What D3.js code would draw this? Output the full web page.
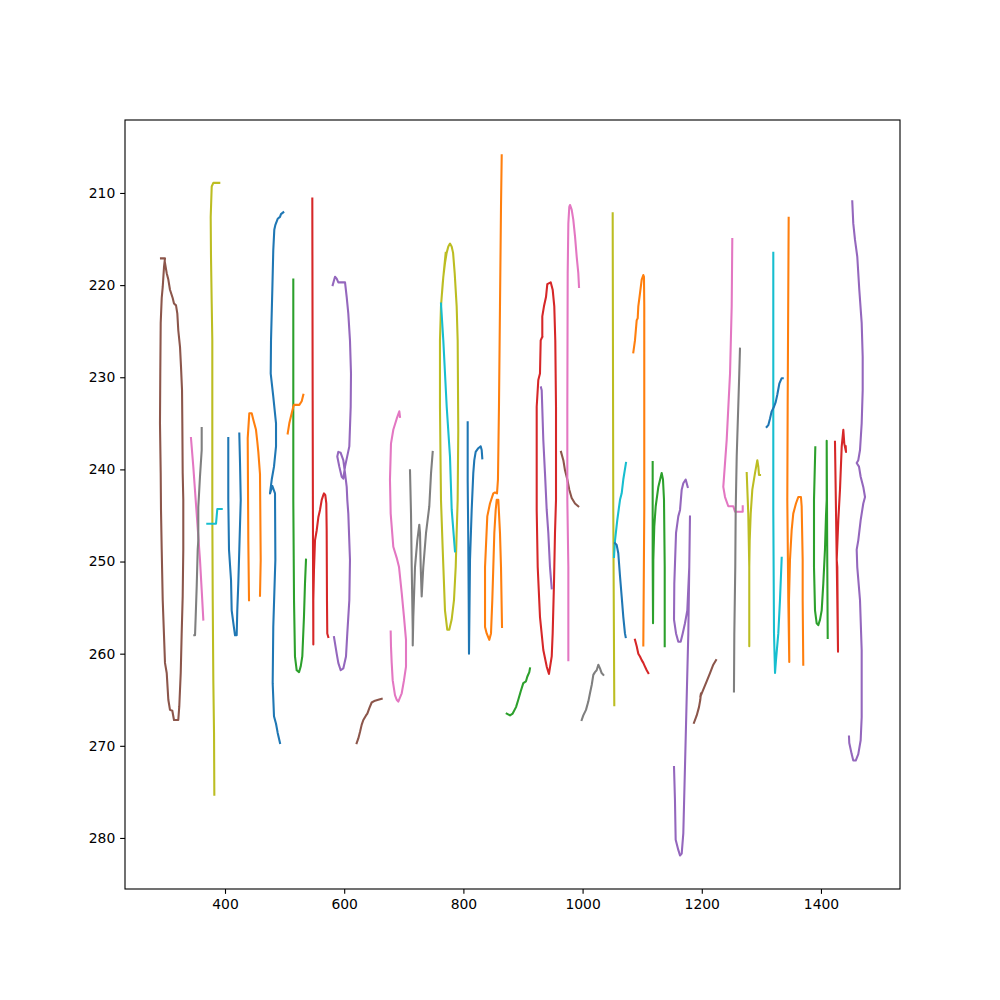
<!DOCTYPE html>
<html><head><meta charset="utf-8">
<script src="https://cdn.jsdelivr.net/npm/d3@7"></script>
<style>body{margin:0;background:#fff} svg text{font-family:"DejaVu Sans",sans-serif}</style>
</head><body><svg id="chart" width="1000" height="1000"></svg>
<script>
// axis limits and ticks
const xLimits = [232.2, 1532.6];
const yLimits = [202.08, 285.54];
const xTicks = [400, 600, 800, 1000, 1200, 1400];
const yTicks = [210, 220, 230, 240, 250, 260, 270, 280];

// tracks, [x, y] pairs, in plotting order
const track00 = [[405.5,236.6],[405.5,243.3],[406.7,248.7],[410.1,252.0],[411.2,255.3],[415.1,257.2],[416.8,258.0],[419.6,258.0],[420.6,255.3],[422.3,252.4],[424.0,248.7],[426.4,243.3],[425.2,239.3],[424.0,236.1]];
const track01 = [[440.3,254.2],[439.1,247.7],[438.1,236.6],[440.8,233.9],[444.8,233.9],[447.5,234.6],[452.0,235.7],[454.2,237.0],[455.9,238.1],[458.7,240.5],[459.9,249.8],[458.7,253.7]];
const track02 = [[514.6,219.4],[514.6,243.3],[515.8,254.2],[517.4,260.3],[520.3,261.8],[524.2,262.0],[527.0,261.4],[529.7,260.3],[532.5,256.0],[534.2,252.4],[535.9,249.8]];
const track03 = [[546.5,210.6],[547.1,232.5],[547.7,249.8],[548.2,259.0],[548.2,254.2],[549.3,250.9],[551.0,247.7],[553.9,246.6],[556.6,245.2],[559.4,244.4],[562.3,243.3],[564.9,242.8],[566.1,242.6],[568.3,242.8],[570.0,243.7],[570.6,246.6],[571.1,254.2],[571.6,257.8],[573.3,258.2]];
const track04 = [[580.7,220.0],[584.6,219.1],[587.4,219.3],[590.1,219.7],[601.4,219.7],[604.2,221.3],[606.9,223.1],[609.7,226.0],[611.4,229.6],[610.9,233.2],[608.6,237.5],[601.4,239.7],[598.5,241.0],[595.8,240.8],[591.8,239.7],[588.4,238.6],[590.1,238.1],[594.1,238.2],[598.5,239.0],[601.4,240.4],[604.2,241.9],[605.2,243.3],[606.9,244.8],[609.7,249.8],[608.6,254.2],[605.2,257.8],[603.0,260.3],[598.5,261.6],[594.1,261.8],[590.1,261.0],[587.4,260.0],[582.9,258.2]];
const track05 = [[292.6,217.1],[299.3,217.1],[297.7,218.0],[295.5,220.2],[293.8,221.4],[292.1,224.1],[291.4,229.6],[290.9,235.0],[292.1,240.4],[292.6,244.4],[293.8,248.7],[295.5,254.2],[299.3,261.0],[302.2,262.1],[304.9,265.0],[307.7,266.1],[311.6,266.2],[314.4,267.2],[321.6,267.2],[323.3,265.7],[325.7,262.1],[327.3,257.8],[329.0,253.8],[330.0,248.7],[330.0,243.3],[329.0,240.4],[328.4,235.0],[327.9,231.4],[326.2,228.9],[324.5,226.7],[321.6,224.9],[320.0,223.1],[317.8,222.2],[314.4,222.0],[312.2,221.4],[307.7,220.5],[304.9,219.4],[302.2,218.7],[299.3,217.6]];
const track06 = [[342.9,236.6],[346.8,239.7],[350.8,243.3],[358.0,249.8],[360.9,253.1],[363.6,256.3]];
const track07 = [[360.9,235.5],[360.9,237.9],[358.0,240.8],[355.2,244.1],[355.2,247.7],[354.2,248.7],[352.5,252.7],[350.8,256.0],[349.7,258.0],[348.5,258.0]];
const track08 = [[390.4,208.9],[380.4,208.9],[377.7,209.3],[376.0,212.6],[376.5,216.9],[377.7,222.0],[378.7,226.0],[378.7,244.4],[379.4,254.2],[380.4,262.9],[381.6,268.6],[382.1,275.3]];
const track09 = [[370.3,245.9],[384.9,245.9],[387.1,244.3],[394.5,244.3]];

const track10 = [[497.8,212.1],[493.9,212.3],[492.3,212.6],[488.4,212.8],[484.4,213.5],[482.7,214.0],[481.0,216.2],[479.4,220.5],[477.2,226.0],[476.7,229.6],[481.0,232.1],[485.6,235.0],[485.6,237.5],[482.2,239.7],[478.4,241.1],[475.5,242.6],[479.4,241.8],[483.9,242.6],[484.5,249.8],[481.0,257.1],[480.0,263.2],[482.2,266.8],[485.6,267.6],[488.4,268.6],[492.3,269.7]];
const track11 = [[505.2,236.1],[507.9,235.0],[511.9,233.9],[514.6,233.2],[515.8,233.0],[524.7,233.0],[528.7,232.6],[531.4,231.9]];
const track12 = [[872.7,266.5],[878.2,266.7],[882.7,266.5],[888.3,265.8],[892.1,265.0],[896.1,264.1],[900.5,263.2],[905.0,263.0],[907.2,262.5],[910.6,262.0],[911.7,261.6]];
const track13 = [[932.4,225.6],[929.7,226.0],[928.5,229.6],[925.7,230.3],[923.0,233.2],[923.0,244.4],[924.7,250.6],[928.5,256.0],[934.1,259.6],[939.8,261.4],[943.6,262.2],[948.2,260.3],[949.8,257.8],[952.0,252.4],[953.7,246.9],[955.4,243.3],[955.4,233.2],[954.2,226.0],[952.5,222.3],[949.8,220.5],[946.5,219.7],[940.8,219.9],[938.6,221.3],[935.2,222.3],[932.4,223.4],[932.4,225.6]];
const track14 = [[930.2,231.1],[931.4,231.4],[934.1,236.8],[936.9,240.4],[939.8,244.4],[942.5,246.9],[945.3,250.6],[948.2,252.9]];
const track15 = [[620.9,269.7],[623.7,269.2],[626.5,268.5],[629.4,267.7],[632.1,267.2],[636.6,266.7],[638.8,266.5],[642.2,265.9],[646.1,265.3],[651.7,265.1],[657.2,265.0],[662.9,264.9]];
const track16 = [[693.6,234.3],[692.5,233.7],[688.1,234.5],[682.4,235.7],[678.5,237.2],[676.8,241.1],[678.0,244.8],[682.4,248.4],[688.1,249.6],[692.0,250.6],[696.5,253.4],[700.3,256.0],[703.7,258.5],[703.7,261.4],[700.3,262.9],[696.5,264.3],[690.8,265.2],[688.1,265.0],[685.2,264.5],[681.4,262.9],[679.7,261.0],[678.5,259.2],[678.0,257.6]];
const track17 = [[710.4,240.1],[712.1,244.8],[713.3,250.6],[715.0,257.4],[715.0,259.1],[716.0,256.0],[718.8,250.6],[722.7,247.7],[726.0,246.0],[727.2,246.9],[728.4,250.6],[730.0,253.8],[732.7,250.6],[737.3,246.9],[742.8,244.0],[745.7,240.4],[748.5,238.1]];
const track18 = [[770.3,216.5],[768.0,218.0],[765.3,219.8],[762.4,222.3],[760.7,226.0],[760.7,233.2],[761.9,240.4],[762.4,243.3],[765.3,248.7],[769.1,255.3],[772.9,257.4],[776.3,257.4],[780.3,256.3],[784.2,254.2],[787.1,250.6],[788.7,246.9],[790.4,243.3],[791.4,235.8],[790.4,226.0],[788.7,222.3],[785.4,218.7],[782.7,216.5],[780.3,215.8],[777.5,215.5],[774.7,215.8],[771.9,216.5],[769.1,217.6],[766.3,219.1],[764.1,220.9]];
const track19 = [[762.4,222.0],[766.3,226.0],[772.0,233.2],[777.5,238.6],[780.4,244.4],[783.1,246.6],[785.9,248.9]];

const track20 = [[831.7,238.8],[830.7,237.9],[829.0,237.5],[825.0,237.7],[820.6,238.1],[818.3,239.0],[816.6,240.4],[813.9,244.4],[811.1,249.8],[809.4,260.0],[808.9,254.2],[808.2,247.7],[807.2,241.2],[807.2,234.9]];
const track21 = [[864.3,205.9],[863.1,211.5],[861.4,222.3],[859.7,233.2],[858.0,241.1],[856.4,242.6],[853.0,242.5],[850.2,242.6],[844.6,243.7],[840.1,245.1],[836.3,250.6],[836.3,257.1],[839.1,257.8],[843.5,258.5],[846.3,257.8],[848.5,254.2],[850.2,250.6],[851.9,246.9],[854.2,244.4],[855.9,243.3],[858.6,243.3],[861.4,246.9],[863.1,250.6],[864.8,257.1]];
const track22 = [[1117.6,239.2],[1117.6,249.8],[1118.2,256.7],[1118.7,249.8],[1120.3,246.2],[1122.7,244.0],[1127.1,241.9],[1132.7,240.4],[1134.9,241.1],[1136.6,243.3],[1137.8,250.6],[1137.8,259.2]];
const track23 = [[1087.9,258.5],[1090.8,259.2],[1093.5,260.0],[1096.3,260.3],[1099.2,260.7],[1101.9,261.0],[1104.7,261.4],[1107.6,261.8],[1110.3,262.1]];
const track24 = [[1176.4,241.9],[1173.0,241.1],[1169.0,241.5],[1166.3,242.2],[1163.5,244.4],[1160.6,245.1],[1156.8,246.9],[1153.9,252.4],[1153.4,256.3],[1156.8,257.8],[1160.6,258.7],[1164.6,258.7],[1168.0,257.8],[1171.8,256.7],[1175.7,255.3],[1179.0,250.6],[1180.2,245.1],[1179.0,250.6],[1177.4,257.8],[1174.6,265.0],[1171.8,272.3],[1169.0,279.5],[1166.3,281.7],[1163.5,281.9],[1160.6,281.3],[1156.2,280.2],[1155.0,275.9],[1153.4,272.3]];
const track25 = [[963.8,238.1],[967.7,239.0],[970.5,240.1],[974.4,241.1],[977.7,242.2],[981.7,243.1],[987.3,243.7],[992.8,244.0]];
const track26 = [[976.1,260.7],[976.1,250.6],[974.4,243.3],[974.4,233.2],[975.0,218.7],[976.1,213.3],[977.7,211.5],[978.9,211.3],[981.7,211.8],[984.4,212.9],[987.3,214.7],[990.1,216.9],[992.8,218.7],[994.0,220.2]];
const track27 = [[998.5,267.2],[1001.2,266.7],[1005.7,266.1],[1009.6,265.2],[1012.4,264.3],[1015.3,263.4],[1018.0,262.3],[1020.8,262.0],[1023.6,261.8],[1026.4,261.2],[1029.2,261.6],[1032.0,262.1],[1034.8,262.3]];
const track28 = [[1050.5,212.2],[1051.5,244.4],[1053.2,265.6]];
const track29 = [[1072.8,239.3],[1068.3,241.1],[1065.6,242.6],[1062.8,243.3],[1058.2,245.5],[1054.4,247.7],[1052.7,249.5]];

const track30 = [[1054.4,248.0],[1057.2,248.2],[1059.9,249.1],[1062.8,251.6],[1065.6,253.8],[1068.3,256.0],[1071.1,257.8],[1072.3,258.2]];
const track31 = [[1085.1,227.3],[1087.9,226.0],[1090.8,223.8],[1092.5,223.6],[1093.5,222.3],[1096.3,220.9],[1099.2,219.4],[1101.9,218.9],[1103.0,219.1],[1103.5,222.3],[1103.5,233.2],[1103.5,244.4],[1101.9,259.1]];
const track32 = [[1390.5,237.6],[1388.3,243.3],[1388.3,250.6],[1390.0,255.3],[1392.8,256.7],[1395.5,256.9],[1398.4,256.3],[1401.2,255.3],[1403.9,252.4],[1406.7,248.7],[1408.4,245.1],[1409.6,243.3],[1409.6,236.9],[1410.6,250.6],[1411.3,258.3]];
const track33 = [[1423.5,237.0],[1426.4,249.8],[1427.4,250.6],[1428.6,259.8],[1427.4,254.2],[1426.4,249.8],[1429.1,245.5],[1431.9,242.2],[1434.8,237.5],[1437.5,235.7],[1439.1,237.2],[1442.0,238.1],[1441.5,237.5]];
const track34 = [[1452.5,210.9],[1454.2,213.3],[1457.1,215.1],[1460.9,216.9],[1464.3,220.5],[1468.3,224.1],[1470.0,227.8],[1470.0,231.4],[1468.3,235.0],[1465.5,237.9],[1462.6,239.0],[1459.9,239.3],[1463.8,239.7],[1466.6,240.8],[1471.0,241.9],[1473.9,243.0],[1471.0,243.7],[1466.6,245.5],[1462.6,247.7],[1459.9,248.7],[1460.9,250.6],[1465.5,254.2],[1468.3,259.6],[1468.3,266.9],[1466.6,269.4],[1462.6,270.9],[1458.3,271.6],[1454.2,271.6],[1451.5,270.9],[1447.5,269.7],[1447.0,269.0]];
const track35 = [[1186.9,267.5],[1191.5,266.7],[1195.3,265.8],[1197.5,265.0],[1198.7,264.3],[1197.5,264.7],[1202.5,263.9],[1208.2,263.0],[1213.8,262.1],[1219.3,261.2],[1223.9,260.7]];
const track36 = [[1251.2,215.0],[1250.2,222.3],[1247.4,229.6],[1241.8,236.8],[1236.1,241.9],[1239.0,243.0],[1244.5,244.0],[1252.9,244.0],[1255.8,244.6],[1268.7,244.6],[1268.7,244.0]];
const track37 = [[1264.1,226.9],[1262.9,229.6],[1261.2,233.2],[1258.6,238.6],[1256.9,244.4],[1256.2,250.6],[1254.6,257.8],[1254.0,264.1]];
const track38 = [[1275.4,240.4],[1278.0,244.8],[1279.7,250.6],[1279.7,259.2],[1279.7,250.6],[1280.4,247.7],[1282.1,244.8],[1284.8,242.2],[1289.3,240.4],[1293.2,239.0],[1294.9,239.7],[1296.0,240.6],[1297.7,240.6]];
const track39 = [[1320.0,216.5],[1320.0,244.4],[1321.2,257.8],[1322.9,262.1],[1324.5,260.7],[1328.4,257.8],[1331.2,254.2],[1334.1,249.6]];

const track40 = [[1308.9,235.4],[1311.6,235.2],[1314.4,234.5],[1317.3,233.7],[1321.2,233.2],[1324.0,232.7],[1326.7,231.9],[1330.1,230.7],[1334.1,230.1],[1335.8,230.1]];
const track41 = [[1345.8,212.7],[1344.1,233.2],[1343.5,243.3],[1345.2,254.2],[1346.8,260.9],[1346.3,254.2],[1348.0,249.8],[1350.8,246.6],[1353.5,244.8],[1358.0,243.7],[1361.9,243.0],[1366.4,243.0],[1367.6,244.0],[1369.3,249.8],[1369.3,254.2],[1370.3,261.2]];

const tracks = [track00,track01,track02,track03,track04,track05,track06,track07,track08,track09,
  track10,track11,track12,track13,track14,track15,track16,track17,track18,track19,
  track20,track21,track22,track23,track24,track25,track26,track27,track28,track29,
  track30,track31,track32,track33,track34,track35,track36,track37,track38,track39,
  track40,track41];

// layout
const L = 125, R = 900, T = 120, B = 889;
const svg = d3.select('#chart');
const x = d3.scaleLinear().domain(xLimits).range([L, R]);
const y = d3.scaleLinear().domain(yLimits).range([T, B]);
const palette = d3.schemeCategory10;

svg.append('defs').append('clipPath').attr('id', 'clip')
  .append('rect').attr('x', L).attr('y', T).attr('width', R - L).attr('height', B - T);

const line = d3.line().x(d => x(d[0])).y(d => y(d[1]));
svg.append('g').attr('clip-path', 'url(#clip)')
  .selectAll('path').data(tracks).join('path')
  .attr('d', line)
  .attr('fill', 'none')
  .attr('stroke', (d, i) => palette[i % 10])
  .attr('stroke-width', 2.08)
  .attr('stroke-linejoin', 'round')
  .attr('stroke-linecap', 'square');

const fs = 13.9, tl = 4.86;
const gx = svg.append('g').attr('transform', `translate(0,${B})`)
  .call(d3.axisBottom(x).tickValues(xTicks).tickSize(tl).tickPadding(tl).tickFormat(d3.format('d')));
const gy = svg.append('g').attr('transform', `translate(${L},0)`)
  .call(d3.axisLeft(y).tickValues(yTicks).tickSize(tl).tickPadding(tl).tickFormat(d3.format('d')));
[gx, gy].forEach(g => {
  g.select('.domain').remove();
  g.attr('color', '#000');
  g.selectAll('.tick line').attr('stroke-width', 1.11);
  g.selectAll('.tick text').attr('font-size', fs).attr('font-family', '"DejaVu Sans", sans-serif');
});

svg.append('rect').attr('x', L).attr('y', T).attr('width', R - L).attr('height', B - T)
  .attr('fill', 'none').attr('stroke', '#000').attr('stroke-width', 1.11);
</script>
</body></html>
